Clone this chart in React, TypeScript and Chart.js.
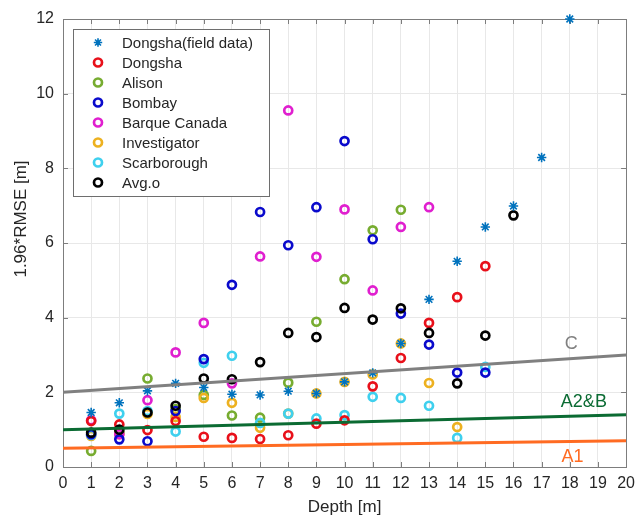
import React, { useEffect, useRef } from 'react';
import { Chart, registerables } from 'chart.js';

Chart.register(...registerables);

// Depth values (m) start at 1 and step by 1 for every series below.
const seriesNames = [
  'Dongsha(field data)',
  'Dongsha',
  'Alison',
  'Bombay',
  'Barque Canada',
  'Investigator',
  'Scarborough',
  'Avg.o',
];

const fieldData = [1.46, 1.72, 2.04, 2.24, 2.13, 1.95, 1.93, 2.03, 1.97, 2.28, 2.52, 3.31, 4.49, 5.51, 6.43, 6.99, 8.29, 12.0];
const dongsha = [1.23, 1.14, 0.99, 1.23, 0.81, 0.78, 0.75, 0.85, 1.16, 1.25, 2.16, 2.92, 3.86, 4.55, 5.38];
const alison = [0.43, 0.93, 2.37, 1.55, 1.93, 1.38, 1.32, 2.26, 3.89, 5.03, 6.34, 6.89];
const bombay = [0.88, 0.74, 0.69, 1.5, 2.89, 4.88, 6.83, 5.94, 6.96, 8.73, 6.1, 4.11, 3.28, 2.53, 2.53];
const barqueCanada = [1.25, 0.88, 1.79, 3.07, 3.86, 2.24, 5.64, 9.55, 5.63, 6.9, 4.73, 6.43, 6.96];
const investigator = [0.83, 0.88, 1.42, 1.34, 1.85, 1.72, 1.05, 1.43, 1.97, 2.28, 2.48, 3.31, 2.25, 1.07];
const scarborough = [0.86, 1.43, 1.5, 0.95, 2.79, 2.98, 1.18, 1.43, 1.3, 1.39, 1.88, 1.85, 1.64, 0.78, 2.68];
const avgO = [0.92, 1.0, 1.46, 1.64, 2.37, 2.35, 2.81, 3.59, 3.48, 4.26, 3.95, 4.25, 3.59, 2.24, 3.52, 6.74];

// Accuracy standard lines: value at depth 0 and at depth 20.
const standardNames = ['C', 'A2&B', 'A1'];
const standardEnds = [
  [2, 3],
  [1, 1.4],
  [0.5, 0.7],
];
// Where each standard's name sits (depth, value).
const standardLabelPos = [
  [18.05, 3.3],
  [18.5, 1.74],
  [18.1, 0.27],
];

const xTickRange = [0, 20, 1];
const yTickRange = [0, 12, 2];

const seriesColors = ['#0072BD', '#E8101A', '#77AC30', '#0A0ACC', '#E01FCF', '#EDB120', '#3FD0EE', '#000000'];
const standardColors = ['#808080', '#0B6B33', '#FF6B22'];

const FONT = '"Liberation Sans", Arial, Helvetica, sans-serif';
const TEXT = '#262626';
const FRAME = '#7d7d7d';

const RING_R = 4;
const RING_W = 2.7;

const toPoints = (values: number[]) => values.map((v, i) => ({ x: i + 1, y: v }));

function drawStar(ctx: CanvasRenderingContext2D, x: number, y: number, r: number, color: string) {
  ctx.save();
  ctx.strokeStyle = color;
  ctx.lineWidth = 1.6;
  ctx.beginPath();
  for (let k = 0; k < 4; k++) {
    const a = (k * Math.PI) / 4;
    ctx.moveTo(x - r * Math.cos(a), y - r * Math.sin(a));
    ctx.lineTo(x + r * Math.cos(a), y + r * Math.sin(a));
  }
  ctx.stroke();
  ctx.restore();
}

function drawRing(ctx: CanvasRenderingContext2D, x: number, y: number, r: number, color: string) {
  ctx.save();
  ctx.strokeStyle = color;
  ctx.lineWidth = RING_W;
  ctx.beginPath();
  ctx.arc(x, y, r, 0, Math.PI * 2);
  ctx.stroke();
  ctx.restore();
}

const framePlugin = {
  id: 'frameTicks',
  beforeDatasetsDraw(chart: any) {
    const { ctx, chartArea: a, scales } = chart;
    const tl = 5;
    ctx.save();
    ctx.strokeStyle = FRAME;
    ctx.lineWidth = 1;
    ctx.beginPath();
    for (let v = xTickRange[0]; v <= xTickRange[1]; v += xTickRange[2]) {
      const px = Math.round(scales.x.getPixelForValue(v)) + 0.5;
      ctx.moveTo(px, a.bottom);
      ctx.lineTo(px, a.bottom - tl);
      ctx.moveTo(px, a.top);
      ctx.lineTo(px, a.top + tl);
    }
    for (let v = yTickRange[0]; v <= yTickRange[1]; v += yTickRange[2]) {
      const py = Math.round(scales.y.getPixelForValue(v)) + 0.5;
      ctx.moveTo(a.left, py);
      ctx.lineTo(a.left + tl, py);
      ctx.moveTo(a.right, py);
      ctx.lineTo(a.right - tl, py);
    }
    ctx.stroke();
    ctx.strokeRect(Math.round(a.left) + 0.5, Math.round(a.top) + 0.5, Math.round(a.right - a.left), Math.round(a.bottom - a.top));
    ctx.restore();
  },
  afterDatasetsDraw(chart: any) {
    const { ctx, scales } = chart;
    ctx.save();
    // Names of the standard lines
    ctx.font = `18px ${FONT}`;
    ctx.textAlign = 'center';
    ctx.textBaseline = 'middle';
    standardNames.forEach((name, i) => {
      ctx.fillStyle = standardColors[i];
      ctx.fillText(name, scales.x.getPixelForValue(standardLabelPos[i][0]), scales.y.getPixelForValue(standardLabelPos[i][1]));
    });

    // Legend box
    const bx = 73.5, by = 29.5, bw = 196, bh = 167;
    ctx.fillStyle = '#ffffff';
    ctx.fillRect(bx, by, bw, bh);
    ctx.strokeStyle = '#6e6e6e';
    ctx.lineWidth = 1;
    ctx.strokeRect(bx, by, bw, bh);
    ctx.font = `15px ${FONT}`;
    ctx.textAlign = 'left';
    ctx.textBaseline = 'middle';
    seriesNames.forEach((name, i) => {
      const y = 42.5 + i * 20;
      if (i === 0) drawStar(ctx, 98, y, 4.2, seriesColors[i]);
      else drawRing(ctx, 98, y, RING_R, seriesColors[i]);
      ctx.fillStyle = TEXT;
      ctx.fillText(name, 122, y + 1);
    });
    ctx.restore();
  },
  afterDraw(chart: any) {
    const { ctx, chartArea: a } = chart;
    ctx.save();
    ctx.fillStyle = TEXT;
    ctx.font = `17px ${FONT}`;
    ctx.textAlign = 'center';
    ctx.textBaseline = 'middle';
    ctx.fillText('Depth [m]', (a.left + a.right) / 2, 507);
    ctx.translate(21, 219);
    ctx.rotate(-Math.PI / 2);
    ctx.fillText('1.96*RMSE [m]', 0, 0);
    ctx.restore();
  },
};

export default function App() {
  const canvasRef = useRef<HTMLCanvasElement | null>(null);

  useEffect(() => {
    if (!canvasRef.current) return;
    const ring = (label: string, values: number[], color: string, order: number) => ({
      label,
      data: toPoints(values),
      pointStyle: 'circle',
      pointRadius: RING_R,
      pointBorderWidth: RING_W,
      borderColor: color,
      backgroundColor: 'rgba(0,0,0,0)',
      pointBackgroundColor: 'rgba(0,0,0,0)',
      showLine: false,
      clip: false,
      order,
    });

    const datasets: any[] = [
      {
        label: seriesNames[0],
        data: toPoints(fieldData),
        pointStyle: 'star',
        pointRadius: 4.7,
        pointBorderWidth: 1.6,
        borderColor: seriesColors[0],
        backgroundColor: seriesColors[0],
        showLine: false,
        clip: false,
        order: 0,
      },
      ring(seriesNames[1], dongsha, seriesColors[1], 2),
      ring(seriesNames[2], alison, seriesColors[2], 7),
      ring(seriesNames[3], bombay, seriesColors[3], 3),
      ring(seriesNames[4], barqueCanada, seriesColors[4], 4),
      ring(seriesNames[5], investigator, seriesColors[5], 6),
      ring(seriesNames[6], scarborough, seriesColors[6], 5),
      ring(seriesNames[7], avgO, seriesColors[7], 1),
      ...standardNames.map((name, i) => ({
        label: name,
        data: [
          { x: xTickRange[0], y: standardEnds[i][0] },
          { x: xTickRange[1], y: standardEnds[i][1] },
        ],
        showLine: true,
        borderColor: standardColors[i],
        borderWidth: 3,
        pointRadius: 0,
        order: -1,
      })),
    ];

    const chart = new Chart(canvasRef.current, {
      type: 'scatter',
      data: { datasets },
      options: {
        animation: false,
        responsive: false,
        devicePixelRatio: 1,
        layout: { padding: { top: 19, right: 14, left: 0, bottom: 0 } },
        plugins: { legend: { display: false }, tooltip: { enabled: false } },
        scales: {
          x: {
            type: 'linear',
            min: xTickRange[0],
            max: xTickRange[1],
            afterFit: (s: any) => {
              s.height = 52;
            },
            ticks: {
              stepSize: xTickRange[2],
              autoSkip: false,
              maxRotation: 0,
              padding: 7,
              color: TEXT,
              font: { family: FONT, size: 16 },
            },
            grid: { color: '#e8e8e8', drawTicks: false },
            border: { display: false },
          },
          y: {
            type: 'linear',
            min: yTickRange[0],
            max: yTickRange[1],
            afterFit: (s: any) => {
              s.width = 63;
            },
            ticks: {
              stepSize: yTickRange[2],
              padding: 9,
              color: TEXT,
              font: { family: FONT, size: 16 },
            },
            grid: { color: '#e8e8e8', drawTicks: false },
            border: { display: false },
          },
        },
      },
      plugins: [framePlugin],
    });
    return () => chart.destroy();
  }, []);

  return (
    <div style={{ position: 'fixed', left: 0, top: 0, width: 642, height: 519, background: '#fff' }}>
      <canvas ref={canvasRef} width={642} height={519} />
    </div>
  );
}
